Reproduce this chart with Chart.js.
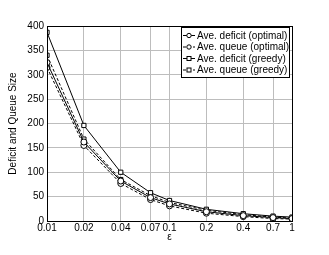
<!DOCTYPE html>
<html><head><meta charset="utf-8">
<script src="https://cdn.jsdelivr.net/npm/chart.js@4"></script>
<style>html,body{margin:0;padding:0;background:#fff}#wrap{width:329px;height:255px}</style>
</head><body><div id="wrap"><canvas id="c" width="329" height="255"></canvas></div>
<script>
const epsilon = [0.01, 0.02, 0.04, 0.07, 0.1, 0.2, 0.4, 0.7, 1];
const deficitOptimal = [325, 162, 82, 48, 35, 19, 11, 7, 5];
const queueOptimal = [315, 155, 77, 44, 31, 16, 9, 5, 4];
const deficitGreedy = [387, 196, 100, 58, 42, 24, 15, 10, 8];
const queueGreedy = [340, 168, 85, 52, 38, 22, 13, 8, 6];
const xTicks = [0.01, 0.02, 0.04, 0.07, 0.1, 0.2, 0.4, 0.7, 1];
const seriesNames = ['Ave. deficit (optimal)', 'Ave. queue (optimal)', 'Ave. deficit (greedy)', 'Ave. queue (greedy)'];

const FONT = 'Liberation Sans, Arial, sans-serif';
function mk(name, vals, dash, shape) {
  return {
    label: name,
    data: epsilon.map((e, i) => ({x: e, y: vals[i]})),
    borderColor: '#000', borderWidth: 1, borderDash: dash,
    pointStyle: shape, pointRadius: 3, pointBorderWidth: 1,
    pointBorderColor: '#000', pointBackgroundColor: '#fff',
    fill: false, tension: 0
  };
}
const datasets = [
  mk(seriesNames[0], deficitOptimal, [], 'circle'),
  mk(seriesNames[1], queueOptimal, [3, 2], 'circle'),
  mk(seriesNames[2], deficitGreedy, [], 'rect'),
  mk(seriesNames[3], queueGreedy, [3, 2], 'rect')
];

const boxPlugin = {
  id: 'boxLegend',
  afterDraw(chart) {
    const ctx = chart.ctx, a = chart.chartArea;
    ctx.save();
    ctx.strokeStyle = '#000'; ctx.lineWidth = 1; ctx.setLineDash([]);
    ctx.strokeRect(Math.round(a.left) + 0.5, Math.round(a.top) + 0.5, Math.round(a.right - a.left), Math.round(a.bottom - a.top));
    // legend
    const lx = 181, ly = 27, lw = 108, lh = 50;
    ctx.fillStyle = '#fff';
    ctx.fillRect(lx, ly, lw, lh);
    ctx.strokeRect(lx + 0.5, ly + 0.5, lw, lh);
    ctx.font = '10px ' + FONT;
    ctx.textBaseline = 'middle';
    chart.data.datasets.forEach((ds, i) => {
      const y = ly + 8 + i * 11.5;
      ctx.strokeStyle = '#000';
      ctx.setLineDash(ds.borderDash);
      ctx.beginPath(); ctx.moveTo(lx + 2, y + 0.5); ctx.lineTo(lx + 14, y + 0.5); ctx.stroke();
      ctx.setLineDash([]);
      ctx.fillStyle = '#fff';
      if (ds.pointStyle === 'circle') {
        ctx.beginPath(); ctx.arc(lx + 8, y + 0.5, 2.2, 0, Math.PI * 2); ctx.fill(); ctx.stroke();
      } else {
        ctx.fillRect(lx + 6, y - 1.5, 4, 4); ctx.strokeRect(lx + 6, y - 1.5, 4, 4);
      }
      ctx.fillStyle = '#000';
      ctx.fillText(ds.label, lx + 16, y + 1);
    });
    ctx.restore();
  }
};

new Chart(document.getElementById('c'), {
  type: 'line',
  data: {datasets},
  plugins: [boxPlugin],
  options: {
    responsive: false, animation: false, devicePixelRatio: 1,
    layout: {padding: {left: 7, top: 26, right: 37, bottom: 12}},
    plugins: {legend: {display: false}, tooltip: {enabled: false}},
    scales: {
      x: {
        type: 'logarithmic', min: 0.01, max: 1,
        afterBuildTicks(s) { s.ticks = xTicks.map(v => ({value: v})); },
        afterFit(s) { s.height = 22; },
        ticks: {autoSkip: false, maxRotation: 0, color: '#000', padding: 1,
          font: {family: FONT, size: 10},
          callback: v => String(v)},
        grid: {color: '#bdbdbd', borderDash: [1, 3], drawTicks: false, lineWidth: 1},
        border: {display: false},
        title: {display: true, text: 'ε', color: '#000', font: {family: FONT, size: 10}, padding: {top: 0, bottom: 0}}
      },
      y: {
        min: 0, max: 400,
        afterFit(s) { s.width = 40; },
        ticks: {stepSize: 50, color: '#000', padding: 3, font: {family: FONT, size: 10}},
        grid: {color: '#bdbdbd', borderDash: [1, 3], drawTicks: false, lineWidth: 1},
        border: {display: false},
        title: {display: true, text: 'Deficit and Queue Size', color: '#000', font: {family: FONT, size: 10}, padding: {top: 0, bottom: 2}}
      }
    }
  }
});
</script></body></html>
